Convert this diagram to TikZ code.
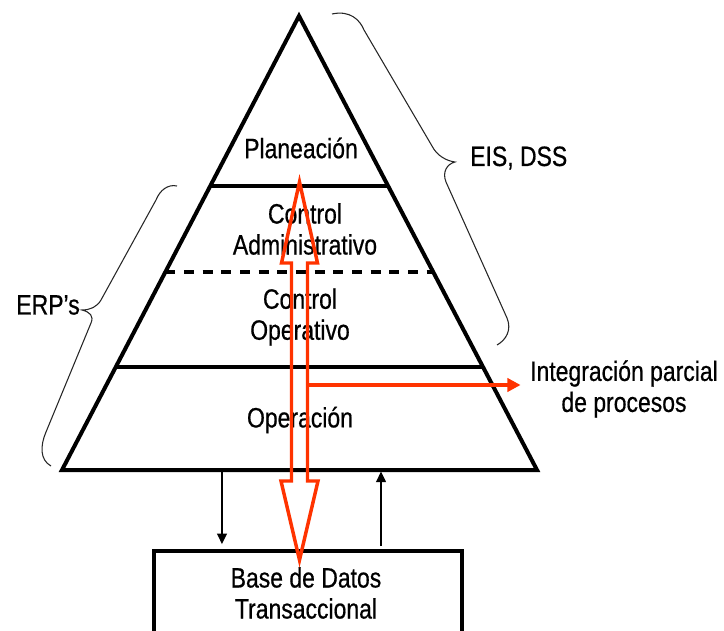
\documentclass[tikz,border=0pt]{standalone}
\usepackage{fontspec}
\setmainfont{Liberation Sans}[FakeStretch=0.82,FakeBold=0.6]
\usetikzlibrary{arrows.meta,calc}
\definecolor{flowred}{RGB}{255,51,0}

\begin{document}
\begin{tikzpicture}[x=0.75pt,y=-0.75pt,
  lbl/.style={align=center,font=\fontsize{21pt}{23.25pt}\selectfont,inner sep=0pt},
  edge/.style={line width=3pt,line join=miter},
  level/.style={line width=2.8pt},
  dashlevel/.style={line width=2.8pt,dash pattern=on 7.5pt off 6.5pt},
  bracket/.style={line width=0.8pt,black!85},
  flow/.style={line width=2.2pt,-{Triangle[length=8pt,width=7pt]}},
  redout/.style={draw=flowred,line width=2.6pt,line join=miter},
  redflow/.style={draw=flowred,line width=2.8pt,-{Triangle[length=10pt,width=10pt]}},
  dbbox/.style={draw,line width=2.9pt,minimum width=231pt,minimum height=90pt,inner sep=0pt}]
\useasboundingbox (0,0) rectangle (724,631);
\clip (0,0) rectangle (724,631);

% pyramid outline
\coordinate (apex) at (299,16);
\coordinate (bl) at (62,470);
\coordinate (br) at (537,470);
\draw[edge] (apex) -- (br) -- (bl) -- cycle;

% level separators
\draw[level] ($(apex)!0.3744!(bl)$) -- ($(apex)!0.3744!(br)$);
\draw[dashlevel] ($(apex)!0.5639!(bl)$) -- ($(apex)!0.5639!(br)$);
\draw[level] ($(apex)!0.7731!(bl)$) -- ($(apex)!0.7731!(br)$);

% level labels
\node[lbl] (plan) at (301,148) {Planeación};
\node[lbl] (ctrladm) at (305,229) {Control\\Administrativo};
\node[lbl] (ctrlop) at (300,317) {Control\\Operativo};
\node[lbl] (oper) at (300,420) {Operación};

% side braces
\draw[bracket] (332,14) .. controls (350,10) and (360,20) .. (364,30)
  -- (432,146) .. controls (437,156) and (447,161) .. (455,162)
  .. controls (447,164) and (442,172) .. (446,182)
  -- (507,318) .. controls (512,330) and (506,340) .. (497,345);
\node[lbl,anchor=west] (eis) at (470,158) {EIS, DSS};

\draw[bracket] (177,186) .. controls (168,184) and (160,190) .. (156,200)
  -- (101,300) .. controls (97,307) and (90,310) .. (82,310)
  .. controls (90,312) and (94,316) .. (91,323)
  -- (46,432) .. controls (40,446) and (40,460) .. (51,466);
\node[lbl,anchor=east] (erp) at (80,305) {ERP’s};

% transactional database
\node[dbbox,anchor=north west] (db) at (152,549) {};
\node[lbl] (dbtext) at (306,593) {Base de Datos\\Transaccional};

% data exchange between pyramid and database
\coordinate (out) at ($(bl)!0.3368!(br)$);
\coordinate (in) at ($(bl)!0.6716!(br)$);
\draw[flow,shorten >=3.5pt] (out) -- (out |- db.north);
\draw[flow,shorten >=1pt] (in |- db.north) ++(0,-3) -- (in);

% vertical integration arrow
\draw[redout] (299.5,182) -- (317.5,263) -- (307.5,263) -- (307.5,481)
  -- (318,481) -- (299.5,560) -- (281,481) -- (291.5,481)
  -- (291.5,263) -- (281.5,263) -- cycle;

% partial integration arrow
\coordinate (tap) at (307.5,385);
\node[lbl] (integ) at (624,389) {Integración parcial\\de procesos};
\draw[redflow,shorten >=7pt] (tap) -- (tap -| integ.west);
\end{tikzpicture}
\end{document}
